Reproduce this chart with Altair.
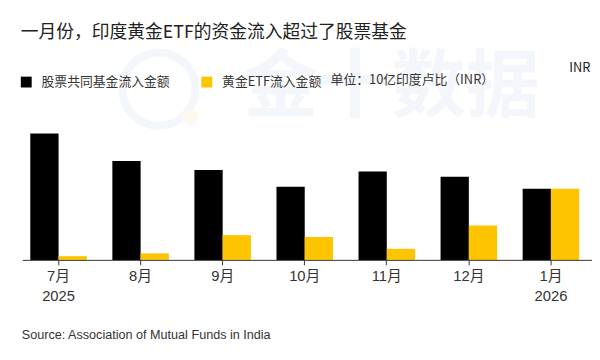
import altair as alt
import pandas as pd

months = ["7月", "8月", "9月", "10月", "11月", "12月", "1月"]
series = ["股票共同基金流入金额", "黄金ETF流入金额"]
equity = [42.7, 33.4, 30.4, 24.7, 29.9, 28.1, 24.0]
gold = [1.26, 2.19, 8.36, 7.74, 3.74, 11.65, 24.04]
colors = ["#000000", "#FFC400"]

title_text = "一月份，印度黄金ETF的资金流入超过了股票基金"
unit_text = "单位：10亿印度卢比（INR）"
corner_text = "INR"
source_text = "Source: Association of Mutual Funds in India"
watermark_text = "金十数据"

rows = []
for m, e, g in zip(months, equity, gold):
    rows.append({"month": m, "series": series[0], "value": e})
    rows.append({"month": m, "series": series[1], "value": g})
df = pd.DataFrame(rows)

CJK = "Noto Sans CJK SC"
LAT = "Liberation Sans, Noto Sans CJK SC"
WM = "#F3F6FB"

bars = alt.Chart(df).mark_bar(cornerRadius=0).encode(
    x=alt.X(
        "month:N",
        sort=months,
        title=None,
        scale=alt.Scale(paddingInner=0.311, paddingOuter=0, range=[7.6, 564]),
        axis=alt.Axis(
            labelAngle=0,
            labelExpr="datum.value == '7月' ? ['7月', '2025'] : datum.value == '1月' ? ['1月', '2026'] : datum.value",
            labelFont=LAT,
            labelFontSize=15,
            labelColor="#333333",
            labelLineHeight=20,
            labelPadding=4,
            tickSize=5,
            tickColor="#333333",
            tickWidth=1,
            domain=False,
            grid=False,
        ),
    ),
    xOffset=alt.XOffset("series:N", sort=series, scale=alt.Scale(paddingInner=0, paddingOuter=0)),
    y=alt.Y("value:Q", scale=alt.Scale(domain=[0, 45]), axis=None, title=None),
    color=alt.Color(
        "series:N",
        sort=series,
        scale=alt.Scale(domain=series, range=colors),
        legend=alt.Legend(
            orient="none",
            legendX=-3,
            legendY=-52,
            direction="horizontal",
            title=None,
            symbolType="square",
            symbolSize=121,
            symbolStrokeWidth=0,
            symbolOpacity=1,
            labelFont=CJK,
            labelFontSize=13,
            labelColor="#333333",
            labelOffset=9,
            columnPadding=30,
        ),
    ),
)

axis_line = alt.Chart(pd.DataFrame({"a": [0]})).mark_rule(color="#333333", strokeWidth=1).encode(
    x=alt.value(0), x2=alt.value(577), y=alt.value(135.5)
)

wm_ring = alt.Chart(pd.DataFrame({"a": [0]})).mark_point(
    shape="circle", filled=False, size=5476, strokeWidth=8, color=WM, opacity=1
).encode(x=alt.value(138), y=alt.value(-38))

wm_dot = alt.Chart(pd.DataFrame({"a": [0]})).mark_point(
    shape="circle", filled=True, size=260, color="#FEF9EE", opacity=1
).encode(x=alt.value(170), y=alt.value(-10))


def label(txt, x, y, size, font, color, weight="normal"):
    return alt.Chart(pd.DataFrame({"t": [txt]})).mark_text(
        align="left", baseline="middle", fontSize=size, font=font, color=color, fontWeight=weight
    ).encode(text="t:N", x=alt.value(x), y=alt.value(y))


chart = alt.layer(
    wm_ring,
    wm_dot,
    label(watermark_text, 224, -39, 75, CJK, WM, "bold"),
    bars,
    axis_line,
    label(title_text, -2, -95, 18, CJK, "#222222"),
    label(unit_text, 312, -47, 13, CJK, "#333333"),
    label(corner_text, 554, -59, 13, CJK, "#222222"),
    label(source_text, -1, 211, 12.8, LAT, "#333333"),
).properties(
    width=575,
    height=135,
    padding={"left": 15, "top": 118, "right": 2, "bottom": 87},
    autosize=alt.AutoSizeParams(type="none"),
    background="white",
).configure_view(stroke=None)

chart.save("out.html", embed_options={"renderer": "svg", "actions": False})
